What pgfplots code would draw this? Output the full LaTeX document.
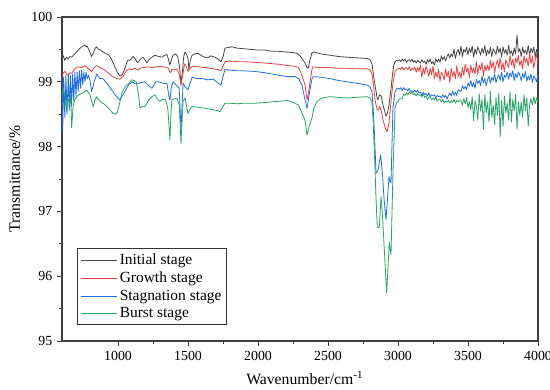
\documentclass[border=0pt]{standalone}
\usepackage{pgfplots}
\pgfplotsset{compat=1.18}
\usepackage{fontspec}
\setmainfont{Liberation Serif}
\definecolor{cI}{RGB}{72,72,72}
\definecolor{cG}{RGB}{238,62,62}
\definecolor{cS}{RGB}{30,110,225}
\definecolor{cB}{RGB}{40,165,100}
\begin{document}
\begin{tikzpicture}
\begin{axis}[
  scale only axis, width=357pt, height=243pt,
  xmin=600, xmax=4000, ymin=95, ymax=100,
  xtick={1000,1500,2000,2500,3000,3500,4000},
  ytick={95,96,97,98,99,100},
  minor x tick num=1, minor y tick num=1,
  tick pos=left, tick align=outside,
  major tick length=3.8pt, minor tick length=2.3pt,
  every tick/.style={line width=0.7pt, color=black!75},
  axis line style={line width=0.8pt, color=black!75},
  /pgf/number format/assume math mode=true,
  /pgf/number format/1000 sep={},
  tick label style={font=\fontsize{10.4}{12}\selectfont},
  xlabel={Wavenumber/cm\textsuperscript{-1}},
  ylabel={Transmittance/\%},
  label style={font=\fontsize{11.8}{13}\selectfont},
  xlabel style={at={(axis description cs:0.51,-0.078)}, anchor=north},
  ylabel style={at={(axis description cs:-0.078,0.5)}, anchor=south},
  legend style={at={(rel axis cs:0.032,0.049)}, anchor=south west, draw=black!80, line width=0.6pt,
    font=\fontsize{11.6}{15.6}\selectfont, inner sep=1.8pt},
  legend cell align=left,
  legend image code/.code={\draw[#1, line width=0.8pt] (0pt,0pt) -- (27pt,0pt);},
  every axis plot/.append style={line width=0.6pt, line join=round},
]
\coordinate (bl) at (rel axis cs:0,0);
\coordinate (tr) at (rel axis cs:1,1);
% Initial stage
\addplot[cI, no marks] coordinates {(600,99.36)(610,99.40)(620,99.33)(632,99.38)(643,99.35)(656,99.39)(670,99.38)(685,99.42)(700,99.45)(720,99.50)(735,99.53)(750,99.55)(764,99.57)(772,99.54)(780,99.55)(795,99.48)(812,99.39)(825,99.45)(838,99.52)(848,99.54)(860,99.50)(875,99.49)(893,99.46)(910,99.44)(929,99.42)(945,99.38)(964,99.30)(980,99.22)(995,99.15)(1014,99.09)(1030,99.11)(1045,99.18)(1060,99.28)(1071,99.34)(1085,99.33)(1100,99.37)(1107,99.39)(1121,99.36)(1135,99.31)(1143,99.30)(1160,99.35)(1179,99.38)(1195,99.33)(1207,99.29)(1220,99.34)(1243,99.38)(1264,99.41)(1290,99.39)(1314,99.38)(1335,99.41)(1350,99.42)(1360,99.35)(1371,99.26)(1380,99.33)(1393,99.41)(1410,99.43)(1425,99.40)(1438,99.25)(1450,98.98)(1460,99.15)(1470,99.40)(1479,99.46)(1490,99.42)(1500,99.36)(1507,99.18)(1515,99.32)(1529,99.41)(1550,99.43)(1571,99.44)(1600,99.40)(1620,99.38)(1643,99.37)(1660,99.40)(1693,99.38)(1715,99.35)(1735,99.31)(1750,99.38)(1764,99.52)(1790,99.53)(1814,99.54)(1850,99.52)(1900,99.51)(1950,99.50)(2000,99.49)(2050,99.49)(2100,99.47)(2150,99.47)(2200,99.46)(2250,99.45)(2280,99.44)(2300,99.40)(2320,99.34)(2336,99.29)(2350,99.22)(2360,99.21)(2370,99.33)(2386,99.45)(2400,99.46)(2450,99.43)(2514,99.41)(2575,99.39)(2636,99.38)(2700,99.37)(2779,99.36)(2800,99.34)(2814,99.28)(2825,99.10)(2836,98.95)(2850,98.76)(2857,98.72)(2868,98.80)(2880,98.78)(2893,98.64)(2905,98.55)(2914,98.47)(2925,98.52)(2936,98.65)(2948,98.85)(2960,99.10)(2970,99.26)(2979,99.31)(2990,99.33)(3000,99.32)
(3010,99.34)(3020,99.31)(3030,99.35)(3040,99.32)(3050,99.35)(3060,99.30)(3070,99.33)(3080,99.34)(3090,99.31)(3100,99.35)(3110,99.30)(3120,99.33)(3130,99.29)(3140,99.33)(3150,99.31)(3160,99.29)(3170,99.34)(3180,99.30)(3190,99.32)(3200,99.27)(3210,99.34)(3220,99.30)(3230,99.35)(3240,99.28)(3250,99.31)(3260,99.26)(3270,99.35)(3280,99.31)(3290,99.35)(3300,99.30)(3310,99.40)(3320,99.34)(3330,99.39)(3340,99.32)(3350,99.39)(3360,99.43)(3370,99.37)(3380,99.43)(3390,99.39)(3400,99.50)(3410,99.36)(3420,99.46)(3430,99.50)(3440,99.41)(3450,99.55)(3460,99.39)(3470,99.50)(3480,99.46)(3490,99.53)(3500,99.42)(3510,99.52)(3520,99.45)(3530,99.55)(3540,99.38)(3550,99.51)(3560,99.43)(3570,99.54)(3580,99.48)(3590,99.41)(3600,99.52)(3610,99.44)(3620,99.56)(3630,99.40)(3640,99.49)(3650,99.43)(3660,99.53)(3670,99.39)(3680,99.51)(3690,99.47)(3700,99.42)(3710,99.55)(3720,99.45)(3730,99.52)(3740,99.38)(3750,99.54)(3760,99.44)(3770,99.50)(3780,99.41)(3790,99.56)(3800,99.43)(3810,99.48)(3820,99.40)(3830,99.52)(3840,99.43)(3850,99.72)(3860,99.46)(3870,99.51)(3880,99.39)(3890,99.53)(3900,99.44)(3910,99.49)(3920,99.42)(3930,99.56)(3940,99.41)(3950,99.52)(3960,99.45)(3970,99.54)(3980,99.38)(3990,99.50)(4000,99.43)};
\addlegendentry{Initial stage}
% Growth stage
\addplot[cG, no marks] coordinates {(600,99.08)(610,99.14)(621,99.16)(632,99.12)(643,99.10)(656,99.14)(669,99.13)(690,99.20)(714,99.23)(740,99.22)(764,99.25)(780,99.22)(795,99.19)(812,99.16)(830,99.22)(848,99.25)(870,99.22)(907,99.18)(940,99.12)(964,99.08)(990,99.05)(1014,99.04)(1040,99.10)(1062,99.18)(1085,99.20)(1100,99.19)(1121,99.21)(1143,99.18)(1160,99.21)(1180,99.22)(1214,99.23)(1250,99.22)(1286,99.24)(1330,99.23)(1357,99.22)(1368,99.16)(1375,99.14)(1385,99.19)(1393,99.18)(1420,99.20)(1437,99.12)(1450,98.94)(1462,99.10)(1472,99.24)(1479,99.28)(1490,99.22)(1500,99.16)(1515,99.20)(1529,99.24)(1580,99.23)(1621,99.22)(1680,99.20)(1715,99.19)(1735,99.17)(1750,99.24)(1764,99.31)(1800,99.32)(1850,99.31)(1900,99.31)(1979,99.30)(2050,99.29)(2100,99.28)(2150,99.27)(2214,99.25)(2264,99.24)(2290,99.22)(2314,99.10)(2336,98.95)(2350,98.72)(2362,98.85)(2371,98.99)(2386,99.20)(2393,99.23)(2450,99.22)(2500,99.22)(2570,99.21)(2636,99.21)(2700,99.20)(2779,99.20)(2800,99.18)(2814,99.12)(2825,98.95)(2836,98.72)(2850,98.58)(2857,98.56)(2870,98.62)(2880,98.55)(2893,98.41)(2908,98.30)(2921,98.23)(2935,98.35)(2950,98.70)(2965,99.00)(2979,99.16)(2990,99.19)(3000,99.20)
(3010,99.21)(3020,99.19)(3030,99.23)(3040,99.18)(3050,99.21)(3060,99.22)(3070,99.19)(3080,99.23)(3090,99.17)(3100,99.21)(3110,99.19)(3120,99.23)(3130,99.15)(3140,99.22)(3150,99.16)(3160,99.26)(3170,99.07)(3180,99.21)(3190,99.12)(3200,99.24)(3210,99.17)(3220,99.08)(3230,99.21)(3240,99.11)(3250,99.24)(3260,99.05)(3270,99.15)(3280,99.07)(3290,99.19)(3300,99.01)(3310,99.15)(3320,99.10)(3330,99.03)(3340,99.20)(3350,99.08)(3360,99.16)(3370,98.99)(3380,99.21)(3390,99.08)(3400,99.16)(3410,99.05)(3420,99.25)(3430,99.08)(3440,99.15)(3450,99.05)(3460,99.22)(3470,99.10)(3480,99.27)(3490,99.15)(3500,99.22)(3510,99.06)(3520,99.26)(3530,99.14)(3540,99.21)(3550,99.12)(3560,99.31)(3570,99.11)(3580,99.26)(3590,99.18)(3600,99.30)(3610,99.09)(3620,99.25)(3630,99.17)(3640,99.26)(3650,99.17)(3660,99.33)(3670,99.21)(3680,99.31)(3690,99.14)(3700,99.26)(3710,99.33)(3720,99.21)(3730,99.37)(3740,99.19)(3750,99.29)(3760,99.15)(3770,99.34)(3780,99.28)(3790,99.22)(3800,99.41)(3810,99.26)(3820,99.35)(3830,99.20)(3840,99.37)(3850,99.29)(3860,99.41)(3870,99.25)(3880,99.33)(3890,99.20)(3900,99.40)(3910,99.30)(3920,99.36)(3930,99.24)(3940,99.44)(3950,99.28)(3960,99.39)(3970,99.21)(3980,99.34)(3990,99.43)(4000,99.26)};
\addlegendentry{Growth stage}
% Stagnation stage
\addplot[cS, no marks] coordinates {(600,99.05)(605,98.23)(612,99.08)(620,98.45)(628,99.10)(636,98.50)(645,99.12)(652,98.55)(660,99.10)(668,98.62)(676,99.12)(684,98.70)(692,99.15)(700,98.78)(708,99.15)(716,98.85)(724,99.17)(732,98.90)(740,99.18)(748,98.95)(756,99.15)(764,99.00)(772,99.15)(780,99.05)(790,99.10)(800,99.02)(812,98.85)(830,99.00)(848,99.12)(870,99.05)(893,99.05)(929,98.95)(964,98.85)(979,98.80)(1000,98.75)(1014,98.72)(1035,98.80)(1050,98.85)(1075,98.95)(1100,99.00)(1121,98.97)(1150,98.98)(1190,99.00)(1214,98.95)(1243,98.90)(1270,99.00)(1286,99.00)(1320,98.98)(1350,98.97)(1362,98.80)(1371,98.72)(1380,98.90)(1393,99.00)(1415,98.95)(1437,98.90)(1450,98.26)(1465,98.98)(1480,98.92)(1500,98.88)(1515,98.98)(1529,99.07)(1560,99.05)(1600,99.05)(1640,99.03)(1680,99.04)(1715,98.98)(1735,98.95)(1750,99.08)(1764,99.19)(1800,99.18)(1850,99.17)(1900,99.17)(1979,99.16)(2050,99.14)(2100,99.12)(2150,99.10)(2214,99.08)(2264,99.08)(2290,99.05)(2314,98.95)(2336,98.72)(2350,98.59)(2365,98.80)(2386,99.05)(2393,99.08)(2450,99.07)(2514,99.05)(2575,99.02)(2636,99.00)(2700,98.98)(2779,98.95)(2800,98.92)(2814,98.85)(2822,98.60)(2830,98.30)(2843,97.59)(2857,97.63)(2866,97.75)(2876,97.87)(2890,97.55)(2900,97.20)(2914,96.87)(2925,97.20)(2936,97.54)(2943,97.46)(2950,97.44)(2964,98.60)(2979,98.85)(2993,98.90)(3000,98.90)
(3010,98.89)(3020,98.91)(3030,98.86)(3040,98.91)(3050,98.88)(3060,98.89)(3070,98.86)(3080,98.90)(3090,98.85)(3100,98.86)(3110,98.84)(3120,98.87)(3130,98.84)(3140,98.87)(3150,98.83)(3160,98.84)(3170,98.79)(3180,98.84)(3190,98.80)(3200,98.82)(3210,98.78)(3220,98.83)(3230,98.77)(3240,98.80)(3250,98.78)(3260,98.80)(3270,98.75)(3280,98.79)(3290,98.77)(3300,98.78)(3310,98.75)(3320,98.80)(3330,98.76)(3340,98.79)(3350,98.73)(3360,98.79)(3370,98.83)(3380,98.78)(3390,98.86)(3400,98.79)(3410,98.84)(3420,98.79)(3430,98.88)(3440,98.86)(3450,98.85)(3460,98.94)(3470,98.89)(3480,98.93)(3490,98.88)(3500,98.98)(3510,98.93)(3520,99.02)(3530,98.92)(3540,98.99)(3550,98.90)(3560,99.04)(3570,98.97)(3580,99.02)(3590,98.94)(3600,99.09)(3610,98.98)(3620,99.05)(3630,98.94)(3640,99.03)(3650,99.09)(3660,98.98)(3670,99.07)(3680,99.02)(3690,99.12)(3700,98.99)(3710,99.07)(3720,99.11)(3730,99.02)(3740,99.15)(3750,99.00)(3760,99.10)(3770,99.07)(3780,99.15)(3790,99.04)(3800,99.14)(3810,99.08)(3820,99.17)(3830,99.02)(3840,99.13)(3850,99.06)(3860,99.15)(3870,99.10)(3880,99.02)(3890,99.13)(3900,99.06)(3910,99.16)(3920,99.01)(3930,99.09)(3940,99.03)(3950,99.12)(3960,98.99)(3970,99.09)(3980,99.05)(3990,99.00)(4000,99.12)};
\addlegendentry{Stagnation stage}
% Burst stage
\addplot[cB, no marks] coordinates {(600,98.80)(610,98.90)(618,98.80)(625,98.75)(633,98.55)(643,98.75)(655,98.65)(662,98.80)(669,98.29)(679,98.62)(690,98.72)(705,98.77)(720,98.80)(740,98.82)(760,98.84)(776,98.87)(790,98.83)(800,98.80)(812,98.70)(824,98.62)(836,98.72)(848,98.77)(870,98.70)(900,98.66)(929,98.60)(950,98.55)(964,98.51)(980,98.50)(995,98.53)(1010,98.65)(1026,98.82)(1045,98.90)(1062,98.95)(1080,98.98)(1098,99.03)(1115,99.02)(1130,99.00)(1143,98.85)(1157,98.60)(1175,98.62)(1190,98.61)(1220,98.72)(1243,98.77)(1264,98.80)(1285,98.72)(1300,98.70)(1320,98.73)(1340,98.72)(1355,98.60)(1362,98.40)(1371,98.10)(1378,98.50)(1385,98.72)(1393,98.73)(1420,98.75)(1437,98.65)(1445,98.30)(1450,98.05)(1458,98.40)(1465,98.70)(1479,98.75)(1490,98.62)(1500,98.51)(1515,98.58)(1529,98.62)(1560,98.61)(1600,98.60)(1650,98.58)(1700,98.56)(1729,98.54)(1745,98.60)(1764,98.67)(1800,98.67)(1850,98.66)(1900,98.67)(1979,98.67)(2050,98.68)(2100,98.69)(2150,98.70)(2214,98.71)(2264,98.67)(2290,98.64)(2321,98.48)(2336,98.41)(2350,98.18)(2365,98.30)(2386,98.45)(2400,98.60)(2421,98.70)(2460,98.75)(2514,98.77)(2575,98.76)(2636,98.75)(2700,98.76)(2779,98.77)(2800,98.75)(2814,98.68)(2822,98.40)(2830,98.00)(2843,97.20)(2852,96.76)(2866,96.75)(2879,97.23)(2890,96.90)(2900,96.50)(2919,95.74)(2938,96.53)(2945,96.40)(2950,96.33)(2964,97.60)(2979,98.60)(2990,98.68)(3000,98.70)
(3010,98.74)(3020,98.74)(3030,98.74)(3040,98.81)(3050,98.79)(3060,98.83)(3070,98.80)(3080,98.84)(3090,98.82)(3100,98.85)(3110,98.80)(3120,98.82)(3130,98.78)(3140,98.82)(3150,98.79)(3160,98.80)(3170,98.77)(3180,98.81)(3190,98.76)(3200,98.78)(3210,98.73)(3220,98.76)(3230,98.77)(3240,98.72)(3250,98.75)(3260,98.72)(3270,98.76)(3280,98.70)(3290,98.73)(3300,98.73)(3310,98.69)(3320,98.73)(3330,98.67)(3340,98.70)(3350,98.69)(3360,98.71)(3370,98.67)(3380,98.71)(3390,98.68)(3400,98.73)(3410,98.67)(3420,98.71)(3430,98.69)(3440,98.72)(3450,98.71)(3460,98.64)(3470,98.74)(3480,98.66)(3490,98.76)(3500,98.60)(3510,98.69)(3520,98.57)(3530,98.77)(3540,98.40)(3550,98.71)(3560,98.62)(3570,98.41)(3580,98.82)(3590,98.55)(3600,98.73)(3610,98.27)(3620,98.80)(3630,98.52)(3640,98.69)(3650,98.38)(3660,98.85)(3670,98.45)(3680,98.64)(3690,98.34)(3700,98.76)(3710,98.48)(3720,98.82)(3730,98.15)(3740,98.71)(3750,98.31)(3760,98.78)(3770,98.52)(3780,98.67)(3790,98.41)(3800,98.85)(3810,98.38)(3820,98.73)(3830,98.55)(3840,98.80)(3850,98.27)(3860,98.69)(3870,98.48)(3880,98.69)(3890,98.45)(3900,98.80)(3910,98.55)(3920,98.75)(3930,98.31)(3940,98.64)(3950,98.74)(3960,98.64)(3970,98.77)(3980,98.66)(3990,98.75)(4000,98.69)};
\addlegendentry{Burst stage}
\end{axis}
\pgfresetboundingbox
\path ([shift={(-46.5pt,-36pt)}]bl) rectangle ([shift={(9pt,12.75pt)}]tr);
\end{tikzpicture}
\end{document}
